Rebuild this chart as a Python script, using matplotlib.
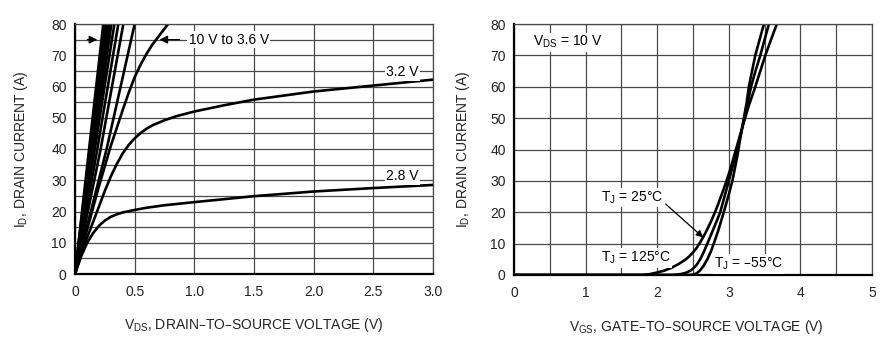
import matplotlib
matplotlib.use("Agg")
import matplotlib.pyplot as plt
from matplotlib.ticker import MultipleLocator

plt.rcParams['font.family'] = ['Liberation Sans', 'DejaVu Sans']
plt.rcParams['mathtext.default'] = 'regular'

# ---- left chart: output characteristics (ID vs VDS) ----
# steep family "10 V to 3.6 V": VDS where the line reaches 40 A and 80 A
fam_v40 = [0.118, 0.125, 0.133, 0.141, 0.149, 0.157, 0.166, 0.187, 0.215, 0.265]
fam_v80 = [0.237, 0.250, 0.263, 0.276, 0.290, 0.305, 0.330, 0.363, 0.405, 0.500]
fam_id = [0, 40, 80]

vds_36 = [0, 0.1, 0.2, 0.3, 0.4, 0.45, 0.5, 0.55, 0.6, 0.65, 0.7, 0.75, 0.78]
id_36 = [0, 14, 28, 41, 52.5, 58, 63, 67, 70.5, 73.5, 76, 78.5, 80]

vds_32 = [0, 0.05, 0.1, 0.15, 0.2, 0.25, 0.3, 0.35, 0.4, 0.45, 0.5, 0.55, 0.6, 0.65,
          0.75, 0.85, 1.0, 1.25, 1.5, 2.0, 2.5, 3.0]
id_32 = [0, 6, 11.5, 16.5, 21.5, 26.6, 31.2, 35.2, 38.6, 41.3, 43.4, 45.1, 46.5, 47.6,
         49.2, 50.5, 52, 54, 55.8, 58.4, 60.3, 62.2]

vds_28 = [0, 0.05, 0.1, 0.15, 0.2, 0.25, 0.3, 0.35, 0.4, 0.45, 0.5, 0.6, 0.75, 1.0,
          1.5, 2.0, 2.5, 3.0]
id_28 = [0, 5.5, 9.8, 13, 15.4, 17.1, 18.3, 19.1, 19.7, 20.1, 20.5, 21.2, 22, 23,
         24.9, 26.4, 27.5, 28.5]

# ---- right chart: transfer characteristics (ID vs VGS) ----
vgs_125 = [0, 1.8, 1.9, 2.0, 2.1, 2.2, 2.3, 2.4, 2.45, 2.5, 2.55, 2.6, 2.65, 2.7, 2.75,
           2.8, 2.85, 2.9, 2.95, 3.0, 3.05, 3.1, 3.15, 3.2, 3.28, 3.37, 3.44, 3.51, 3.59, 3.67]
id_125 = [0, 0, 0.3, 0.8, 1.4, 2.3, 3.5, 5, 6, 7.2, 8.6, 10.4, 12.4, 14.6, 17,
          19.6, 22.5, 25.6, 28.8, 32.2, 36, 40, 44, 48, 54, 60, 65, 70, 75, 80]

vgs_25 = [0, 2.2, 2.3, 2.35, 2.4, 2.45, 2.5, 2.55, 2.6, 2.65, 2.7, 2.75, 2.8, 2.84,
          2.88, 2.94, 3.0, 3.05, 3.1, 3.15, 3.2, 3.25, 3.31, 3.37, 3.44, 3.5, 3.56]
id_25 = [0, 0, 0.2, 0.4, 0.7, 1.2, 2, 3.2, 5, 7.3, 10, 12.7, 15.5, 17.7,
         20, 25, 30, 34.3, 38.7, 43.2, 48, 53.2, 60, 64.8, 70, 75, 80]

vgs_m55 = [0, 2.45, 2.5, 2.55, 2.6, 2.65, 2.7, 2.75, 2.79, 2.85, 2.93, 3.0, 3.05, 3.12,
           3.16, 3.21, 3.25, 3.28, 3.32, 3.37, 3.43, 3.49]
id_m55 = [0, 0, 0.15, 0.5, 1.5, 3, 5, 7.5, 10, 14, 20, 25.7, 30, 38,
          43.5, 50, 55, 60, 64.5, 70, 75, 80]

LW = 1.9
GRID = '#4a4a4a'
box = dict(facecolor='white', edgecolor='none', pad=1.0)

fig = plt.figure(figsize=(8.87, 3.62), dpi=100)
ax1 = fig.add_axes([75 / 887, (362 - 274) / 362, 358 / 887, 250 / 362])
ax2 = fig.add_axes([514 / 887, (362 - 275) / 362, 358 / 887, 251 / 362])

for ax in (ax1, ax2):
    ax.set_ylim(0, 80)
    ax.yaxis.set_major_locator(MultipleLocator(10))
    ax.grid(True, which='both', color=GRID, lw=0.9)
    ax.set_axisbelow(True)
    ax.tick_params(which='both', length=0, labelsize=10, colors='#222222')
    ax.tick_params(axis='x', pad=8)
    ax.tick_params(axis='y', pad=6)
    for s in ('top', 'right'):
        ax.spines[s].set_color(GRID)
        ax.spines[s].set_linewidth(0.9)
    for s in ('left', 'bottom'):
        ax.spines[s].set_color('black')
        ax.spines[s].set_linewidth(1.6)
    ax.set_ylabel('I$_{D}$, DRAIN CURRENT (A)', fontsize=10, color='#222222')

# left chart
ax1.set_xlim(0, 3.0)
ax1.yaxis.set_minor_locator(MultipleLocator(5))
ax1.set_xticks([0, 0.5, 1.0, 1.5, 2.0, 2.5, 3.0])
ax1.set_xticklabels(['0', '0.5', '1.0', '1.5', '2.0', '2.5', '3.0'])
for a, b in zip(fam_v40, fam_v80):
    ax1.plot([0, a, b], fam_id, color='black', lw=LW, solid_joinstyle='round')
ax1.plot(vds_36, id_36, color='black', lw=LW)
ax1.plot(vds_32, id_32, color='black', lw=LW)
ax1.plot(vds_28, id_28, color='black', lw=LW)

ax1.text(1.29, 75, '10 V to 3.6 V', ha='center', va='center', fontsize=10, bbox=box)
ax1.annotate('', xy=(0.21, 75), xytext=(0.08, 75),
             arrowprops=dict(arrowstyle='-|>', color='black', lw=0.9, mutation_scale=12))
ax1.annotate('', xy=(0.685, 75), xytext=(0.9, 75),
             arrowprops=dict(arrowstyle='-|>', color='black', lw=0.9, mutation_scale=12))
ax1.text(2.745, 64.5, '3.2 V', ha='center', va='center', fontsize=10, bbox=box)
ax1.text(2.745, 31.2, '2.8 V', ha='center', va='center', fontsize=10, bbox=box)
ax1.set_xlabel('V$_{DS}$, DRAIN–TO–SOURCE VOLTAGE (V)', fontsize=10, color='#222222')
ax1.xaxis.set_label_coords(0.5, -0.17)
ax1.yaxis.set_label_coords(-0.125, 0.5)

# right chart
ax2.set_xlim(0, 5)
ax2.xaxis.set_major_locator(MultipleLocator(1))
ax2.xaxis.set_minor_locator(MultipleLocator(0.5))
ax2.plot(vgs_125, id_125, color='black', lw=LW)
ax2.plot(vgs_25, id_25, color='black', lw=LW)
ax2.plot(vgs_m55, id_m55, color='black', lw=LW)

ax2.text(0.26, 74.2, 'V$_{DS}$ = 10 V', ha='left', va='center', fontsize=10, bbox=box)
ax2.text(1.21, 24.7, 'T$_{J}$ = 25°C', ha='left', va='center', fontsize=10, bbox=box)
ax2.text(1.21, 5.4, 'T$_{J}$ = 125°C', ha='left', va='center', fontsize=10, bbox=box)
ax2.text(2.8, 3.5, 'T$_{J}$ = –55°C', ha='left', va='center', fontsize=10, bbox=box)
ax2.annotate('', xy=(2.67, 11.4), xytext=(2.09, 23.2),
             arrowprops=dict(arrowstyle='-|>', color='black', lw=0.9, mutation_scale=10))
ax2.set_xlabel('V$_{GS}$, GATE–TO–SOURCE VOLTAGE (V)', fontsize=10, color='#222222')
ax2.xaxis.set_label_coords(0.51, -0.17)
ax2.yaxis.set_label_coords(-0.117, 0.5)

fig.savefig('out.png', dpi=100)
